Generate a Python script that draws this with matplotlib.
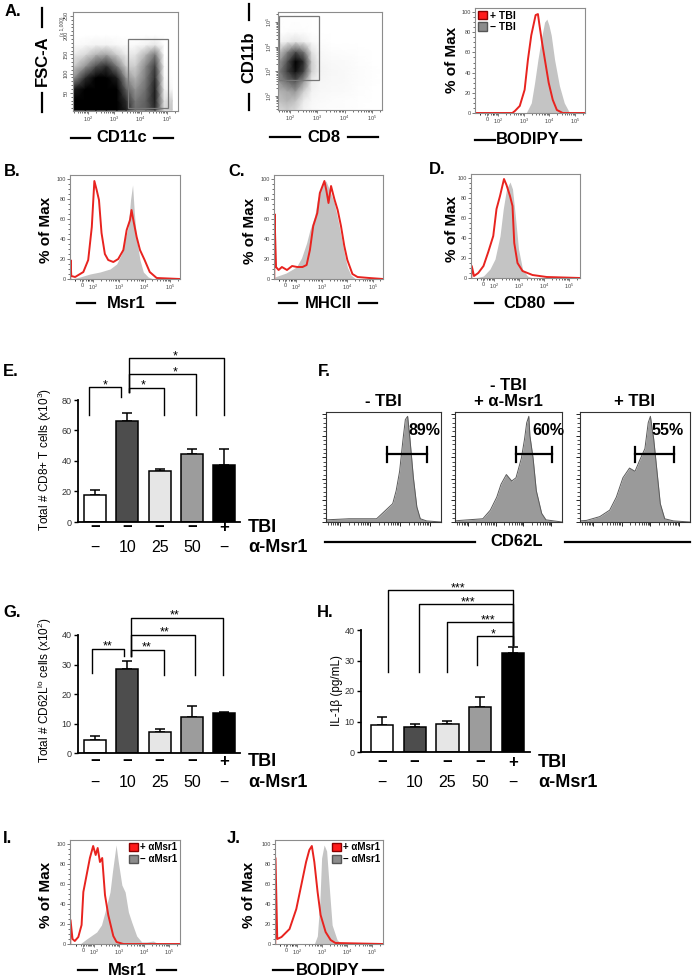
import numpy as np
import matplotlib.pyplot as plt
from matplotlib.lines import Line2D
from matplotlib.patches import Patch

plt.rcParams['font.family'] = ['Liberation Sans', 'DejaVu Sans']
plt.rcParams['mathtext.fontset'] = 'custom'
plt.rcParams['mathtext.rm'] = 'Liberation Sans'
plt.rcParams['mathtext.it'] = 'Liberation Sans:italic'
plt.rcParams['mathtext.bf'] = 'Liberation Sans:bold'

# ---------------- data ----------------
# A: dot plots shown as density grids
a1_x = [1.45, 1.9, 2.3, 2.7, 3.1, 3.45, 3.8, 4.2, 4.55, 4.9, 5.2]
a1_y = [5, 30, 60, 90, 120, 150, 175, 200]
a1_density = [
    [1.0, 1.0, 1.0, 1.0, 1.0, 0.9, 0.65, 0.7, 0.85, 0.25, 0.35],
    [1.0, 1.0, 1.0, 1.0, 1.0, 0.85, 0.6, 0.7, 0.9, 0.2, 0.3],
    [0.9, 1.0, 1.0, 1.0, 1.0, 0.7, 0.5, 0.65, 0.9, 0.12, 0.05],
    [0.5, 0.85, 1.0, 1.0, 0.9, 0.5, 0.4, 0.6, 0.85, 0.06, 0.0],
    [0.3, 0.5, 0.75, 0.85, 0.6, 0.3, 0.3, 0.55, 0.8, 0.04, 0.0],
    [0.15, 0.25, 0.4, 0.45, 0.3, 0.15, 0.18, 0.4, 0.6, 0.0, 0.0],
    [0.03, 0.06, 0.1, 0.1, 0.06, 0.03, 0.04, 0.1, 0.18, 0.0, 0.0],
    [0.0] * 11,
]
a2_x = [1.56, 1.9, 2.2, 2.5, 2.8, 3.1, 3.5, 4.0, 4.5, 5.0, 5.37]
a2_y = [1.43, 1.8, 2.2, 2.6, 3.0, 3.4, 3.8, 4.2, 4.6, 5.4]
a2_density = [
    [0.25, 0.3, 0.25, 0.1, 0.05, 0.03, 0.02, 0.02, 0.01, 0, 0],
    [0.35, 0.4, 0.35, 0.15, 0.06, 0.04, 0.03, 0.02, 0.01, 0, 0],
    [0.4, 0.45, 0.5, 0.3, 0.1, 0.06, 0.05, 0.04, 0.02, 0, 0],
    [0.5, 0.65, 0.75, 0.5, 0.15, 0.08, 0.06, 0.05, 0.03, 0.01, 0],
    [0.55, 0.8, 0.95, 0.8, 0.3, 0.1, 0.07, 0.05, 0.03, 0.01, 0],
    [0.45, 0.75, 1.0, 0.85, 0.3, 0.08, 0.05, 0.04, 0.02, 0, 0],
    [0.3, 0.55, 0.75, 0.6, 0.2, 0.05, 0.03, 0.02, 0.01, 0, 0],
    [0.08, 0.15, 0.2, 0.15, 0.05, 0.02, 0, 0, 0, 0, 0],
    [0, 0.02, 0.03, 0.02, 0, 0, 0, 0, 0, 0, 0],
    [0] * 11,
]

# histograms: x in decades of fluorescence, y in % of max
a3_gray_x = [3.09, 3.29, 3.42, 3.55, 3.68, 3.81, 3.90, 3.98, 4.07, 4.20, 4.39, 4.58, 4.77]
a3_gray_y = [0, 10, 30, 53, 73, 90, 93, 87, 77, 53, 27, 10, 1]
a3_red_x = [1.09, 2.55, 2.65, 2.84, 3.03, 3.16, 3.29, 3.46, 3.55, 3.61, 3.71, 3.84, 3.97, 4.13, 4.29, 4.52, 5.39]
a3_red_y = [0, 0, 2, 7, 23, 53, 77, 97, 98, 87, 70, 50, 30, 13, 3, 0, 0]

b_gray_x = [1.13, 1.48, 1.87, 2.26, 2.65, 2.91, 3.10, 3.23, 3.36, 3.45, 3.53, 3.60, 3.69, 3.82, 3.95, 4.14, 4.34]
b_gray_y = [0, 2, 5, 7, 10, 15, 25, 39, 52, 79, 94, 66, 39, 19, 7, 2, 0]
b_red_x = [1.10, 1.11, 1.14, 1.29, 1.61, 1.80, 1.94, 2.04, 2.13, 2.22, 2.32, 2.45, 2.58, 2.78, 2.97,
           3.17, 3.30, 3.43, 3.49, 3.56, 3.69, 3.82, 4.00, 4.20, 4.47, 5.38]
b_red_y = [0, 19, 3, 2, 7, 19, 52, 98, 89, 79, 46, 25, 19, 17, 20, 29, 49, 59, 69, 59, 42, 29, 19, 7, 1, 0]

c_gray_x = [1.15, 1.6, 2.0, 2.2, 2.4, 2.53, 2.72, 2.83, 3.03, 3.16, 3.29, 3.49, 3.68, 3.88, 4.0, 4.14, 4.33]
c_gray_y = [2, 6, 12, 21, 36, 49, 63, 80, 95, 98, 90, 76, 53, 26, 12, 4, 0]
c_red_x = [1.13, 1.14, 1.20, 1.30, 1.43, 1.63, 1.83, 2.03, 2.24, 2.40, 2.53, 2.66, 2.82, 2.92, 3.10,
           3.18, 3.26, 3.36, 3.49, 3.62, 3.75, 3.88, 4.00, 4.20, 4.40, 4.86, 5.40]
c_red_y = [0, 65, 12, 9, 12, 9, 13, 12, 12, 14, 29, 53, 66, 86, 98, 88, 76, 93, 80, 69, 53, 33, 19, 5, 2, 1, 0]

d_gray_x = [1.24, 1.57, 1.83, 2.03, 2.23, 2.36, 2.49, 2.63, 2.73, 2.84, 2.97, 3.13, 3.33, 3.53]
d_gray_y = [0, 2, 9, 19, 42, 69, 89, 96, 89, 63, 29, 9, 2, 0]
d_red_x = [1.08, 1.10, 1.19, 1.36, 1.57, 1.76, 1.96, 2.09, 2.23, 2.39, 2.49, 2.63, 2.73, 2.80, 2.93,
           3.13, 3.53, 4.10, 5.43]
d_red_y = [0, 12, 2, 5, 12, 26, 42, 69, 82, 99, 93, 82, 72, 35, 15, 7, 3, 1, 0]

i_gray_x = [1.45, 1.71, 2.11, 2.30, 2.44, 2.64, 2.74, 2.88, 2.97, 3.11, 3.24, 3.37, 3.50, 3.70, 3.90,
            4.09, 4.36, 4.50, 4.62]
i_gray_y = [0, 5, 12, 19, 32, 52, 73, 99, 82, 59, 52, 32, 22, 8, 2, 2, 3, 1, 0]
i_red_x = [1.06, 1.07, 1.15, 1.24, 1.38, 1.51, 1.58, 1.71, 1.84, 1.97, 2.07, 2.15, 2.24, 2.33, 2.44,
           2.57, 2.77, 2.90, 3.17, 5.42]
i_red_y = [0, 24, 5, 3, 7, 19, 52, 69, 86, 98, 89, 96, 82, 86, 49, 29, 8, 2, 0, 0]

j_gray_x = [2.68, 2.80, 2.90, 2.97, 3.07, 3.17, 3.29, 3.39, 3.59, 3.78]
j_gray_y = [0, 8, 42, 86, 99, 93, 52, 19, 4, 0]
j_red_x = [1.12, 1.13, 1.20, 1.37, 1.69, 1.96, 2.16, 2.35, 2.48, 2.58, 2.68, 2.81, 2.93, 3.13, 3.33, 3.52, 5.42]
j_red_y = [0, 86, 5, 7, 15, 35, 59, 82, 94, 98, 82, 52, 29, 12, 4, 1, 0]

# F: CD62L histograms, x as fraction of the plot width
f1_x = [0, 0.2, 0.44, 0.52, 0.58, 0.61, 0.64, 0.67, 0.69, 0.71, 0.73, 0.76, 0.79, 0.82, 0.875, 1.0]
f1_y = [2, 3, 3, 11, 17, 29, 47, 77, 95, 98, 77, 41, 14, 3, 1, 0]
f2_x = [0, 0.05, 0.26, 0.33, 0.39, 0.43, 0.48, 0.53, 0.57, 0.62, 0.65, 0.67, 0.69, 0.70, 0.73, 0.76, 0.81, 0.85, 1.0]
f2_y = [1, 1.5, 3, 11, 23, 35, 44, 38, 41, 59, 77, 92, 98, 80, 59, 29, 8, 2, 0]
f3_x = [0, 0.06, 0.18, 0.27, 0.33, 0.39, 0.45, 0.50, 0.55, 0.59, 0.62, 0.64, 0.67, 0.70, 0.73, 0.77, 0.85, 1.0]
f3_y = [1, 1.5, 5, 11, 23, 41, 50, 47, 59, 68, 92, 98, 77, 47, 17, 3, 1, 0]
f_titles = ['- TBI', '- TBI\n+ \u03b1-Msr1', '+ TBI']
f_percent = ['89%', '60%', '55%']

# bar charts
tbi_row = ['\u2212', '\u2212', '\u2212', '\u2212', '+']
msr1_row = ['\u2212', '10', '25', '50', '\u2212']
bar_colors = ['white', '#4d4d4d', '#e6e6e6', '#9c9c9c', 'black']
e_mean = [17.5, 66.5, 33.5, 44.5, 37.5]
e_err = [3.5, 5.0, 1.5, 3.5, 10.5]
g_mean = [4.4, 28.5, 7.2, 12.1, 13.4]
g_err = [1.3, 2.6, 0.9, 3.7, 0.5]
h_mean = [8.9, 8.3, 9.2, 14.9, 32.4]
h_err = [2.7, 0.9, 1.0, 3.2, 2.0]

# brackets: x_left, y_left, x_right, y_right, y_top, stars, star_x
e_brackets = [(-0.18, 70, 0.81, 82, 88.5, '*', 0.31),
              (1.06, 85, 2.12, 70, 88, '*', 1.5),
              (1.06, 85, 3.12, 70, 97, '*', 2.48),
              (1.06, 85, 4.0, 70, 107.5, '*', 2.48)]
g_brackets = [(-0.1, 27, 0.9, 33, 35.3, '**', 0.4),
              (1.1, 33, 2.12, 26.4, 35, '**', 1.6),
              (1.1, 33, 3.1, 26.4, 40, '**', 2.15),
              (1.1, 33, 3.97, 26.4, 45.8, '**', 2.45)]
h_brackets = [(0.18, 26.2, 4.0, 35, 53, '***', 2.32),
              (1.13, 26.2, 4.0, 35, 48.5, '***', 2.62),
              (1.99, 26.2, 4.0, 35, 42.6, '***', 3.24),
              (2.9, 28.5, 4.0, 35, 38, '*', 3.39)]

# ---------------- layout helpers ----------------
W, H = 695, 980
fig = plt.figure(figsize=(W / 100, H / 100), dpi=100)


def box(x0, y0, x1, y1):
    return fig.add_axes([x0 / W, 1 - y1 / H, (x1 - x0) / W, (y1 - y0) / H])


def ftext(x, y, s, **kw):
    kw.setdefault('ha', 'center')
    kw.setdefault('va', 'center')
    fig.text(x / W, 1 - y / H, s, **kw)


def fline(x0, y0, x1, y1, lw=1.6):
    fig.add_artist(Line2D([x0 / W, x1 / W], [1 - y0 / H, 1 - y1 / H], color='black', lw=lw))


def dash_label(cx, cy, s, gap, length, vertical=False, size=12):
    if vertical:
        ftext(cx, cy, s, rotation=90, fontsize=size, fontweight='bold')
        fline(cx, cy - gap - length, cx, cy - gap)
        fline(cx, cy + gap, cx, cy + gap + length)
    else:
        ftext(cx, cy, s, fontsize=size, fontweight='bold')
        fline(cx - gap - length, cy, cx - gap, cy)
        fline(cx + gap, cy, cx + gap + length, cy)


def decade_minor(lo, hi):
    ticks = [d + np.log10(k) for d in range(1, 6) for k in range(2, 10)]
    return [t for t in ticks if lo < t < hi]


def flow_frame(ax):
    for s in ax.spines.values():
        s.set_color('#8c8c8c')
        s.set_linewidth(0.8)
    ax.tick_params(labelsize=4, length=2, width=0.5, pad=1, colors='#444')
    ax.tick_params(which='minor', length=1.2, width=0.4)


def flow_hist(px, xlo, xhi, gx, gy, rx, ry, legend=None, loc='upper left', lsize=7):
    ax = box(*px)
    ax.fill_between(gx, gy, color='#c4c4c4', lw=0)
    ax.plot(rx, ry, color='#e8231f', lw=1.4, solid_joinstyle='round')
    ax.set_xlim(xlo, xhi)
    ax.set_ylim(0, 104)
    ax.set_xticks([1.56, 2, 3, 4, 5], ['0', '$10^2$', '$10^3$', '$10^4$', '$10^5$'])
    ax.set_xticks(decade_minor(xlo, xhi) + [1.3, 1.8], minor=True)
    ax.set_yticks(range(0, 101, 20))
    ax.set_yticks(range(0, 101, 5), minor=True)
    flow_frame(ax)
    if legend:
        handles = [Patch(facecolor='#ff1a1a', edgecolor='#8a0000', label=legend[0]),
                   Patch(facecolor='#8c8c8c', edgecolor='#555', label=legend[1])]
        ax.legend(handles=handles, loc=loc, frameon=False, handlelength=0.9, handleheight=0.9,
                  handletextpad=0.3, labelspacing=0.15, borderaxespad=0.15, borderpad=0.1,
                  prop={'weight': 'bold', 'size': lsize})
    return ax


def density_plot(px, gx, gy, grid, xlim, ylim):
    ax = box(*px)
    ax.pcolormesh(gx, gy, np.array(grid), shading='gouraud', cmap='Greys', vmin=0, vmax=1)
    ax.set_xlim(*xlim)
    ax.set_ylim(*ylim)
    ax.set_xticks([2, 3, 4, 5], ['$10^2$', '$10^3$', '$10^4$', '$10^5$'])
    ax.set_xticks(decade_minor(*xlim), minor=True)
    flow_frame(ax)
    return ax


def bar_panel(px, means, errs, xlim, ylim, yticks, brackets, rows_y, row_label_x):
    ax = box(*px)
    idx = np.arange(len(means))
    ax.bar(idx, means, width=0.68, color=bar_colors, edgecolor='black', lw=1.1, zorder=2)
    ax.errorbar(idx, means, yerr=[np.zeros(len(errs)), errs], fmt='none', ecolor='black',
                elinewidth=1.1, capsize=3.5, capthick=1.1, zorder=1)
    ax.set_xlim(*xlim)
    ax.set_ylim(*ylim)
    ax.set_yticks(yticks)
    ax.set_xticks([])
    for s in ['top', 'right']:
        ax.spines[s].set_visible(False)
    for s in ['left', 'bottom']:
        ax.spines[s].set_linewidth(1.3)
    ax.tick_params(axis='y', labelsize=6.5, length=3, width=1, pad=1.5, labelcolor='#333')
    for xl, yl, xr, yr, yt, stars, sx in brackets:
        ax.plot([xl, xl, xr, xr], [yl, yt, yt, yr], color='black', lw=1.0, clip_on=False)
        ax.annotate(stars, (sx, yt), xytext=(0, 1.5), textcoords='offset points',
                    ha='center', va='center', fontsize=9, annotation_clip=False)
    tr = ax.get_xaxis_transform()
    for i in idx:
        ax.text(i, rows_y[0], tbi_row[i], transform=tr, ha='center', va='center',
                fontsize=12, fontweight='bold')
        ax.text(i, rows_y[1], msr1_row[i], transform=tr, ha='center', va='center', fontsize=11.5)
    ax.text(row_label_x, rows_y[0], 'TBI', transform=tr, ha='left', va='center',
            fontsize=13, fontweight='bold')
    ax.text(row_label_x, rows_y[1], '\u03b1-Msr1', transform=tr, ha='left', va='center',
            fontsize=13, fontweight='bold')
    return ax


# ---------------- panel A ----------------
ax = density_plot((73, 12, 178, 111), a1_x, a1_y, a1_density, (1.43, 5.42), (3, 260))
ax.set_yticks([50, 100, 150, 200, 250])
ax.set_yticklabels(['50', '100', '150', '200', '250'], rotation=90, va='center')
ax.set_yticks(range(10, 260, 10), minor=True)
ax.add_patch(plt.Rectangle((3.52, 11), 5.04 - 3.52, 190 - 11, fill=False, ec='#777', lw=0.9))
ax.text(-0.1, 0.86, '(x 1,000)', transform=ax.transAxes, rotation=90, fontsize=3.5,
        ha='center', va='center', color='#444')
dash_label(42, 60.5, 'FSC-A', 33, 19, vertical=True)
dash_label(122, 138, 'CD11c', 32, 19)

ax = density_plot((278, 12, 382, 110), a2_x, a2_y, a2_density, (1.56, 5.37), (1.43, 5.4))
ax.set_yticks([2, 3, 4, 5])
ax.set_yticklabels(['$10^2$', '$10^3$', '$10^4$', '$10^5$'], rotation=90, va='center')
ax.set_yticks(decade_minor(1.43, 5.4), minor=True)
ax.add_patch(plt.Rectangle((1.6, 2.65), 3.07 - 1.6, 5.24 - 2.65, fill=False, ec='#777', lw=0.9))
dash_label(249, 57, 'CD11b', 37, 16, vertical=True)
dash_label(324, 137, 'CD8', 24, 30)

flow_hist((475, 8, 585, 113), 1.09, 5.39, a3_gray_x, a3_gray_y, a3_red_x, a3_red_y,
          legend=['+ TBI', '\u2212 TBI'], lsize=7.5)
ftext(452, 60, '% of Max', rotation=90, fontsize=11, fontweight='bold')
dash_label(528, 140, 'BODIPY', 33, 20)

# ---------------- panels B-D ----------------
flow_hist((70, 175, 180, 279), 1.09, 5.38, b_gray_x, b_gray_y, b_red_x, b_red_y)
ftext(46, 230, '% of Max', rotation=90, fontsize=11, fontweight='bold')
dash_label(126, 303, 'Msr1', 31, 18)

flow_hist((274, 175, 383, 279), 1.12, 5.4, c_gray_x, c_gray_y, c_red_x, c_red_y)
ftext(250, 231, '% of Max', rotation=90, fontsize=11, fontweight='bold')
dash_label(328, 303, 'MHCII', 31, 18)

flow_hist((471, 174, 580, 278), 1.07, 5.43, d_gray_x, d_gray_y, d_red_x, d_red_y)
ftext(452, 229, '% of Max', rotation=90, fontsize=11, fontweight='bold')
dash_label(524, 303, 'CD80', 31, 18)

# ---------------- panel E ----------------
bar_panel((78, 400, 240, 522), e_mean, e_err, (-0.53, 4.49), (0, 80), [0, 20, 40, 60, 80],
          e_brackets, (-0.045, -0.205), 4.74)
ftext(45, 459, 'Total # CD8+ T cells (x10$^3$)', rotation=90, fontsize=8.5)

# ---------------- panel F ----------------
f_boxes = [(326, 412, 441, 522), (455, 412, 562, 522), (580, 412, 690, 522)]
f_gates = [(0.53, 0.88), (0.57, 0.91), (0.5, 0.85)]
f_labels_x = [0.86, 0.87, 0.8]
for k, (fx, fy) in enumerate([(f1_x, f1_y), (f2_x, f2_y), (f3_x, f3_y)]):
    ax = box(*f_boxes[k])
    ax.fill_between(fx, fy, color='#9a9a9a', lw=0)
    ax.plot(fx, fy, color='#5a5a5a', lw=0.7)
    ax.set_xlim(0, 1)
    ax.set_ylim(0, 102)
    ax.set_xticks([0.12, 0.38, 0.64, 0.9])
    ax.set_xticks([m - (1 - np.log10(j)) * 0.26 for m in [0.12, 0.38, 0.64, 0.9]
                   for j in range(2, 10) if m - (1 - np.log10(j)) * 0.26 > 0], minor=True)
    ax.set_yticks(range(0, 101, 20))
    ax.set_yticks(range(0, 101, 4), minor=True)
    ax.tick_params(labelbottom=False, labelleft=False, length=3, width=0.6)
    ax.tick_params(which='minor', length=2, width=0.5)
    for s in ax.spines.values():
        s.set_linewidth(0.8)
        s.set_color('#333')
    g0, g1 = f_gates[k]
    ax.plot([g0, g1], [63, 63], color='black', lw=1.6)
    ax.plot([g0, g0], [56, 70], color='black', lw=1.6)
    ax.plot([g1, g1], [56, 70], color='black', lw=1.6)
    ax.text(f_labels_x[k], 85, f_percent[k], ha='center', va='center', fontsize=11.5,
            fontweight='bold')
    ax.set_title(f_titles[k], fontsize=12, fontweight='bold', pad=4, linespacing=1.1)
ftext(517, 542, 'CD62L', fontsize=12, fontweight='bold')
fline(325, 542, 475, 542)
fline(565, 542, 690, 542)

# ---------------- panel G ----------------
bar_panel((78, 635, 240, 753), g_mean, g_err, (-0.53, 4.49), (0, 40), [0, 10, 20, 30, 40],
          g_brackets, (-0.076, -0.246), 4.74)
ftext(45, 690, 'Total # CD62L$^{\\mathrm{lo}}$ cells (x10$^2$)', rotation=90, fontsize=8.5)

# ---------------- panel H ----------------
bar_panel((361, 630, 530, 752), h_mean, h_err, (-0.64, 4.52), (0, 40), [0, 10, 20, 30, 40],
          h_brackets, (-0.082, -0.246), 4.76)
ftext(337, 690, 'IL-1\u03b2 (pg/mL)', rotation=90, fontsize=8.5)

# ---------------- panels I, J ----------------
flow_hist((70, 840, 180, 944), 1.05, 5.42, i_gray_x, i_gray_y, i_red_x, i_red_y,
          legend=['+ \u03b1Msr1', '\u2212 \u03b1Msr1'], loc='upper right')
ftext(46, 895, '% of Max', rotation=90, fontsize=11, fontweight='bold')
dash_label(127, 970, 'Msr1', 30, 19)

flow_hist((275, 840, 383, 944), 1.11, 5.42, j_gray_x, j_gray_y, j_red_x, j_red_y,
          legend=['+ \u03b1Msr1', '\u2212 \u03b1Msr1'], loc='upper right')
ftext(249, 895, '% of Max', rotation=90, fontsize=11, fontweight='bold')
dash_label(328, 970, 'BODIPY', 35, 20)

# ---------------- panel letters ----------------
for lab, x, y in [('A.', 13, 12), ('B.', 12, 171), ('C.', 237, 171), ('D.', 437, 169),
                  ('E.', 11, 372), ('F.', 324, 372), ('G.', 12, 612), ('H.', 325, 612),
                  ('I.', 8, 838), ('J.', 234, 838)]:
    ftext(x, y, lab, fontsize=12, fontweight='bold')

fig.savefig('out.png', dpi=100)
